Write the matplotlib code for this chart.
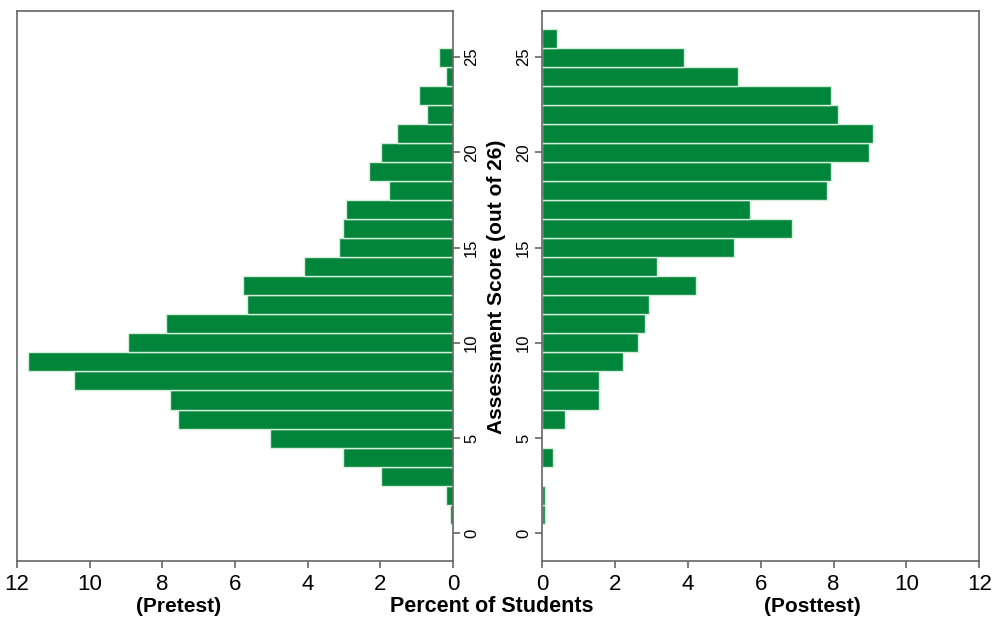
import numpy as np
import matplotlib
matplotlib.use("Agg")
import matplotlib.pyplot as plt

# Percent of students at each assessment score (0-26)
pre_scores = list(range(1, 26))
pre_percent = [0.08, 0.18, 1.99, 3.04, 5.05, 7.58, 7.79, 10.44, 11.71, 8.95,
               7.90, 5.68, 5.78, 4.10, 3.15, 3.04, 2.94, 1.77, 2.30, 1.99,
               1.55, 0.72, 0.93, 0.18, 0.39]

post_scores = [1, 2, 4, 6, 7, 8, 9, 10, 11, 12, 13, 14, 15, 16, 17, 18, 19,
               20, 21, 22, 23, 24, 25, 26]
post_percent = [0.08, 0.08, 0.30, 0.61, 1.57, 1.57, 2.21, 2.63, 2.83, 2.94,
                4.21, 3.16, 5.27, 6.86, 5.69, 7.81, 7.92, 8.97, 9.09, 8.13,
                7.92, 5.37, 3.90, 0.40]

x_ticks = [0, 2, 4, 6, 8, 10, 12]
y_ticks = [0, 5, 10, 15, 20, 25]

plt.rcParams['font.family'] = ['Liberation Sans', 'DejaVu Sans']

bar_color = '#00853a'
edge_color = '#d5eed9'
spine_color = '#666666'

fig = plt.figure(figsize=(9.92, 6.2), dpi=100)
ax_pre = fig.add_axes([17 / 992, 1 - 561 / 620, 436 / 992, 550 / 620])
ax_post = fig.add_axes([542.3 / 992, 1 - 561 / 620, 437 / 992, 550 / 620])

ax_pre.barh(pre_scores, pre_percent, height=1.0, color=bar_color,
            edgecolor=edge_color, linewidth=1.0)
ax_post.barh(post_scores, post_percent, height=1.0, color=bar_color,
             edgecolor=edge_color, linewidth=1.0)

ax_pre.set_xlim(12, 0)
ax_pre.yaxis.tick_right()
ax_post.set_xlim(0, 12)

for ax in (ax_pre, ax_post):
    ax.set_ylim(-1.45, 27.42)
    ax.set_xticks(x_ticks)
    ax.set_yticks(y_ticks)
    for s in ax.spines.values():
        s.set_color(spine_color)
        s.set_linewidth(1.2)
    ax.tick_params(axis='x', colors=spine_color, labelcolor='black',
                   labelsize=16, length=5, width=1.2, pad=4)
    ax.tick_params(axis='y', colors=spine_color, labelcolor='black',
                   labelsize=12, length=5, width=1.2, pad=3,
                   labelrotation=90)
    for lab in ax.yaxis.get_majorticklabels():
        lab.set_verticalalignment('center')

fig.text(178.5 / 992, 1 - 606 / 620, '(Pretest)', ha='center', va='center',
         fontsize=15, fontweight='bold')
fig.text(491.5 / 992, 1 - 606 / 620, 'Percent of Students', ha='center',
         va='center', fontsize=15.5, fontweight='bold')
fig.text(812.5 / 992, 1 - 606 / 620, '(Posttest)', ha='center', va='center',
         fontsize=15, fontweight='bold')
fig.text(497 / 992, 1 - 287 / 620, 'Assessment Score (out of 26)',
         ha='center', va='center', rotation=90, fontsize=15,
         fontweight='bold')

fig.savefig('out.png', dpi=100)
